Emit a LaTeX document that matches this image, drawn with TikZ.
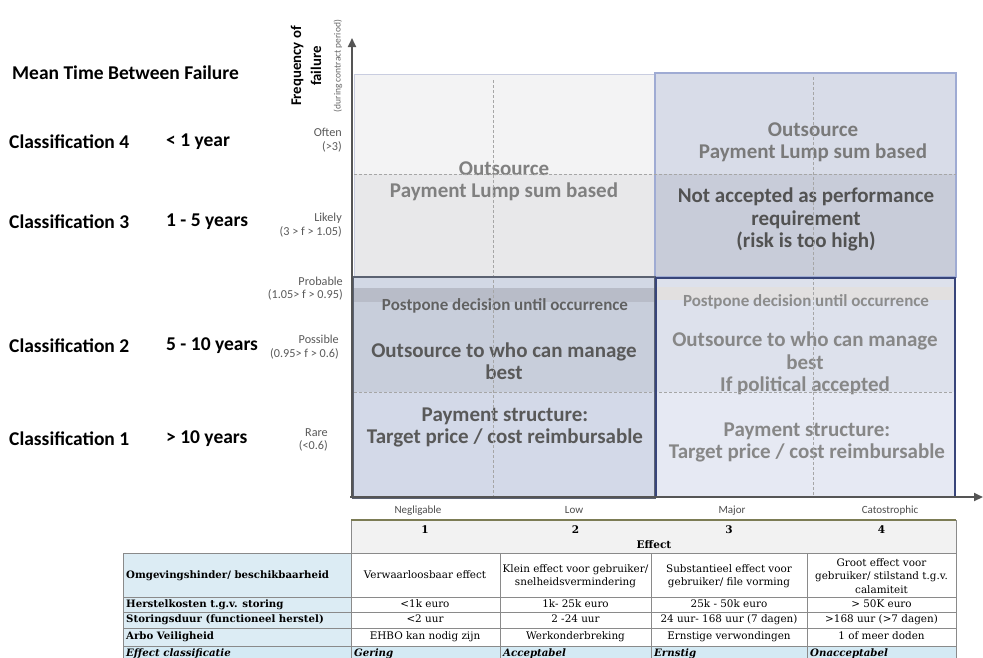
\documentclass[tikz,border=0pt]{standalone}
\usepackage{fontspec}
\setmainfont{Carlito}
\newfontfamily\tabfont{DejaVu Serif}
\usetikzlibrary{arrows.meta}

\definecolor{tlUp}{HTML}{F3F3F4}
\definecolor{tlLo}{HTML}{E8E8EA}
\definecolor{tlBorder}{HTML}{C9CDE0}
\definecolor{trUp}{HTML}{D8DCE8}
\definecolor{trLo}{HTML}{C8CCD9}
\definecolor{trBorder}{HTML}{9FABD3}
\definecolor{blTop}{HTML}{D2D8E5}
\definecolor{blA}{HTML}{C8CEDB}
\definecolor{blBand}{HTML}{B8BCC8}
\definecolor{blB}{HTML}{D3D9E8}
\definecolor{blBorder}{HTML}{5B6272}
\definecolor{brA}{HTML}{DDE1EC}
\definecolor{brBand}{HTML}{E2E0E0}
\definecolor{brB}{HTML}{E6E9F3}
\definecolor{brBorder}{HTML}{38457A}
\definecolor{axisgray}{HTML}{555555}
\definecolor{labelblue}{HTML}{DCECF4}
\definecolor{rowblue}{HTML}{D4EAF4}
\definecolor{headgray}{HTML}{F2F2F2}
\definecolor{olive}{HTML}{7C7C55}
\definecolor{gridgray}{HTML}{8A8A8A}

\tikzset{
  txt/.style={inner sep=0pt, align=center},
  classlbl/.style={txt, anchor=west, font=\fontsize{19.5}{22}\selectfont\bfseries},
  freqlbl/.style={txt, anchor=east, align=right, text=black!65, font=\fontsize{12.2}{13.5}\selectfont},
  effectlbl/.style={txt, anchor=base, text=black!70, font=\fontsize{11}{13}\selectfont},
  quadtxt/.style={txt, font=\fontsize{21}{22.3}\selectfont\bfseries},
  smalltxt/.style={txt, font=\fontsize{17}{19}\selectfont\bfseries},
  griddash/.style={black!35, dashed, dash pattern=on 3pt off 2pt, line width=0.6pt},
  axis/.style={axisgray, line width=2pt, -{Triangle[length=9pt,width=8pt]}},
  tabhead/.style={txt, font=\tabfont\fontsize{10.5}{12}\selectfont\bfseries},
  tablbl/.style={txt, anchor=west, text height=7.5pt, text depth=2pt, font=\tabfont\fontsize{10.2}{12}\selectfont\bfseries},
  tabclass/.style={txt, anchor=base west, font=\tabfont\fontsize{10.2}{12}\selectfont\bfseries\itshape},
  tabcellm/.style={txt, font=\tabfont\fontsize{10.4}{13.5}\selectfont},
  tabcell/.style={tabcellm, text height=7.5pt, text depth=2pt},
  tabrule/.style={gridgray, line width=0.6pt}
}

\begin{document}
\begin{tikzpicture}[x=1pt,y=-1pt]
\useasboundingbox (0,0) rectangle (983,657);
\clip (0,0) rectangle (983,657);

% ---------- quadrants ----------
\fill[tlUp] (354,74) rectangle (655,174);
\fill[tlLo] (354,174) rectangle (655,277);
\draw[tlBorder, line width=1pt] (354,74) rectangle (655,277);

\fill[trUp] (655,73) rectangle (956,174);
\fill[trLo] (655,174) rectangle (956,277);
\draw[trBorder, line width=1.2pt] (655,73) rectangle (956,277);

\fill[blTop] (353,277) rectangle (655,288);
\fill[blA] (353,288) rectangle (655,392);
\fill[blBand] (353,288) rectangle (655,302);
\fill[blB] (353,392) rectangle (655,498);

\fill[brA] (656,278) rectangle (955,392);
\fill[brBand] (656,287) rectangle (955,300);
\fill[brB] (656,392) rectangle (955,497);

% ---------- quadrant texts ----------
\node[quadtxt, text=black!50] (tltxt) at (504,181) {Outsource\\Payment Lump sum based};

\node[quadtxt, text=black!52] (trtxt1) at (813,142) {Outsource\\Payment Lump sum based};
\node[quadtxt, text=black!68] (trtxt2) at (806,219.5) {Not accepted as performance\\requirement\\(risk is too high)};

\node[smalltxt, text=black!62] (bltxt1) at (505,306) {Postpone decision until occurrence};
\node[quadtxt, text=black!65] (bltxt2) at (504,361) {Outsource to who can manage\\best};
\node[quadtxt, text=black!65] (bltxt3) at (505,427.5) {Payment structure:\\Target price / cost reimbursable};

\node[smalltxt, text=black!45] (brtxt1) at (806,302) {Postpone decision until occurrence};
\node[quadtxt, text=black!47] (brtxt2) at (805,363.5) {Outsource to who can manage\\best\\If political accepted};
\node[quadtxt, text=black!47] (brtxt3) at (807,442.5) {Payment structure:\\Target price / cost reimbursable};

% dashed dividers, drawn over the texts
\draw[griddash] (493,80) -- (493,497);
\draw[griddash] (813,77) -- (813,497);
\draw[griddash] (354,174) -- (956,174);
\draw[griddash] (354,392) -- (956,392);

% frames of the lower quadrants
\draw[blBorder, line width=2.5pt] (353,277) rectangle (655,498);
\draw[brBorder, line width=2pt] (656,278) rectangle (955,497);

% ---------- axes ----------
\coordinate (origin) at (352,498);
\coordinate (ytip) at (352,38);
\coordinate (xorg) at (350,497);
\coordinate (xtip) at (983,497);
\draw[axis] (origin) -- (ytip);
\draw[axis] (xorg) -- (xtip);

% axis titles
\node[txt, rotate=90, font=\fontsize{14.8}{20}\selectfont\bfseries] (ftitle) at (306,66) {Frequency of\\failure};
\node[txt, rotate=90, text=black!60, font=\fontsize{9.5}{10}\selectfont] (fsub) at (338,66) {(during contract period)};

% frequency classes
\node[freqlbl] (often) at (342,140) {Often\\(>3)};
\node[freqlbl] (likely) at (342,225) {Likely\\(3 > f > 1.05)};
\node[freqlbl] (probable) at (343,288.5) {Probable\\(1.05> f > 0.95)};
\node[freqlbl] (possible) at (339,347) {Possible\\(0.95> f > 0.6)};
\node[freqlbl] (rare) at (328,440) {Rare\\(<0.6)};

% effect classes
\node[effectlbl] (negl) at (418,513) {Negligable};
\node[effectlbl] (low) at (574,513) {Low};
\node[effectlbl] (major) at (732,513) {Major};
\node[effectlbl] (cat) at (890,513) {Catostrophic};

% ---------- left legend ----------
\node[classlbl] (mtbf) at (12,73) {Mean Time Between Failure};
\node[classlbl] (c4) at (9,142) {Classification 4};
\node[classlbl] (c4v) at (166,142) {< 1 year};
\node[classlbl] (c3) at (9,222) {Classification 3};
\node[classlbl] (c3v) at (166,222) {1 - 5 years};
\node[classlbl] (c2) at (9,346) {Classification 2};
\node[classlbl] (c2v) at (166,346) {5 - 10 years};
\node[classlbl] (c1) at (9,439) {Classification 1};
\node[classlbl] (c1v) at (166,439) {> 10 years};

% ---------- effect table ----------
% header block
\fill[headgray] (351,520) rectangle (956,553);
\draw[tabrule] (351,520) rectangle (956,553);
\draw[olive, line width=1.2pt] (351,520) -- (956,520);
\node[tabhead] (h1) at (425,530) {1};
\node[tabhead] (h2) at (575.5,530) {2};
\node[tabhead] (h3) at (729,530) {3};
\node[tabhead] (h4) at (881.5,530) {4};
\node[tabhead] (heff) at (654,545) {Effect};

% label column and classification row
\fill[labelblue] (123,553) rectangle (351,646);
\fill[rowblue] (123,646) rectangle (956,670);

% grid
\draw[tabrule] (123,553) rectangle (956,670);
\foreach \yy in {597,612,628,646} \draw[tabrule] (123,\yy) -- (956,\yy);
\foreach \xx in {351,500,651,807} \draw[tabrule] (\xx,553) -- (\xx,670);

\node[tablbl] (r1) at (126,576) {Omgevingshinder/ beschikbaarheid};
\node[tablbl] (r2) at (126,604.5) {Herstelkosten t.g.v. storing};
\node[tablbl] (r3) at (126,620) {Storingsduur (functioneel herstel)};
\node[tablbl] (r4) at (126,637) {Arbo Veiligheid};
\node[tabclass] (r5) at (126,656) {Effect classificatie};

\node[tabcell] (a1) at (425,576) {Verwaarloosbaar effect};
\node[tabcellm] (b1) at (575.5,576) {Klein effect voor gebruiker/\\snelheidsvermindering};
\node[tabcellm] (c1cell) at (729,576) {Substantieel effect voor\\gebruiker/ file vorming};
\node[tabcellm] (d1) at (881.5,576) {Groot effect voor\\gebruiker/ stilstand t.g.v.\\calamiteit};

\node[tabcell] (a2) at (425,604.5) {<1k euro};
\node[tabcell] (b2) at (575.5,604.5) {1k- 25k euro};
\node[tabcell] (c2cell) at (729,604.5) {25k - 50k euro};
\node[tabcell] (d2) at (881.5,604.5) {> 50K euro};

\node[tabcell] (a3) at (425,620) {<2 uur};
\node[tabcell] (b3) at (575.5,620) {2 -24 uur};
\node[tabcell] (c3cell) at (729,620) {24 uur- 168 uur (7 dagen)};
\node[tabcell] (d3) at (881.5,620) {>168 uur (>7 dagen)};

\node[tabcell] (a4) at (425,637) {EHBO kan nodig zijn};
\node[tabcell] (b4) at (575.5,637) {Werkonderbreking};
\node[tabcell] (c4cell) at (729,637) {Ernstige verwondingen};
\node[tabcell] (d4) at (881.5,637) {1 of meer doden};

\node[tabclass] (a5) at (354,656) {Gering};
\node[tabclass] (b5) at (503,656) {Acceptabel};
\node[tabclass] (c5) at (654,656) {Ernstig};
\node[tabclass] (d5) at (810,656) {Onacceptabel};
\end{tikzpicture}
\end{document}
